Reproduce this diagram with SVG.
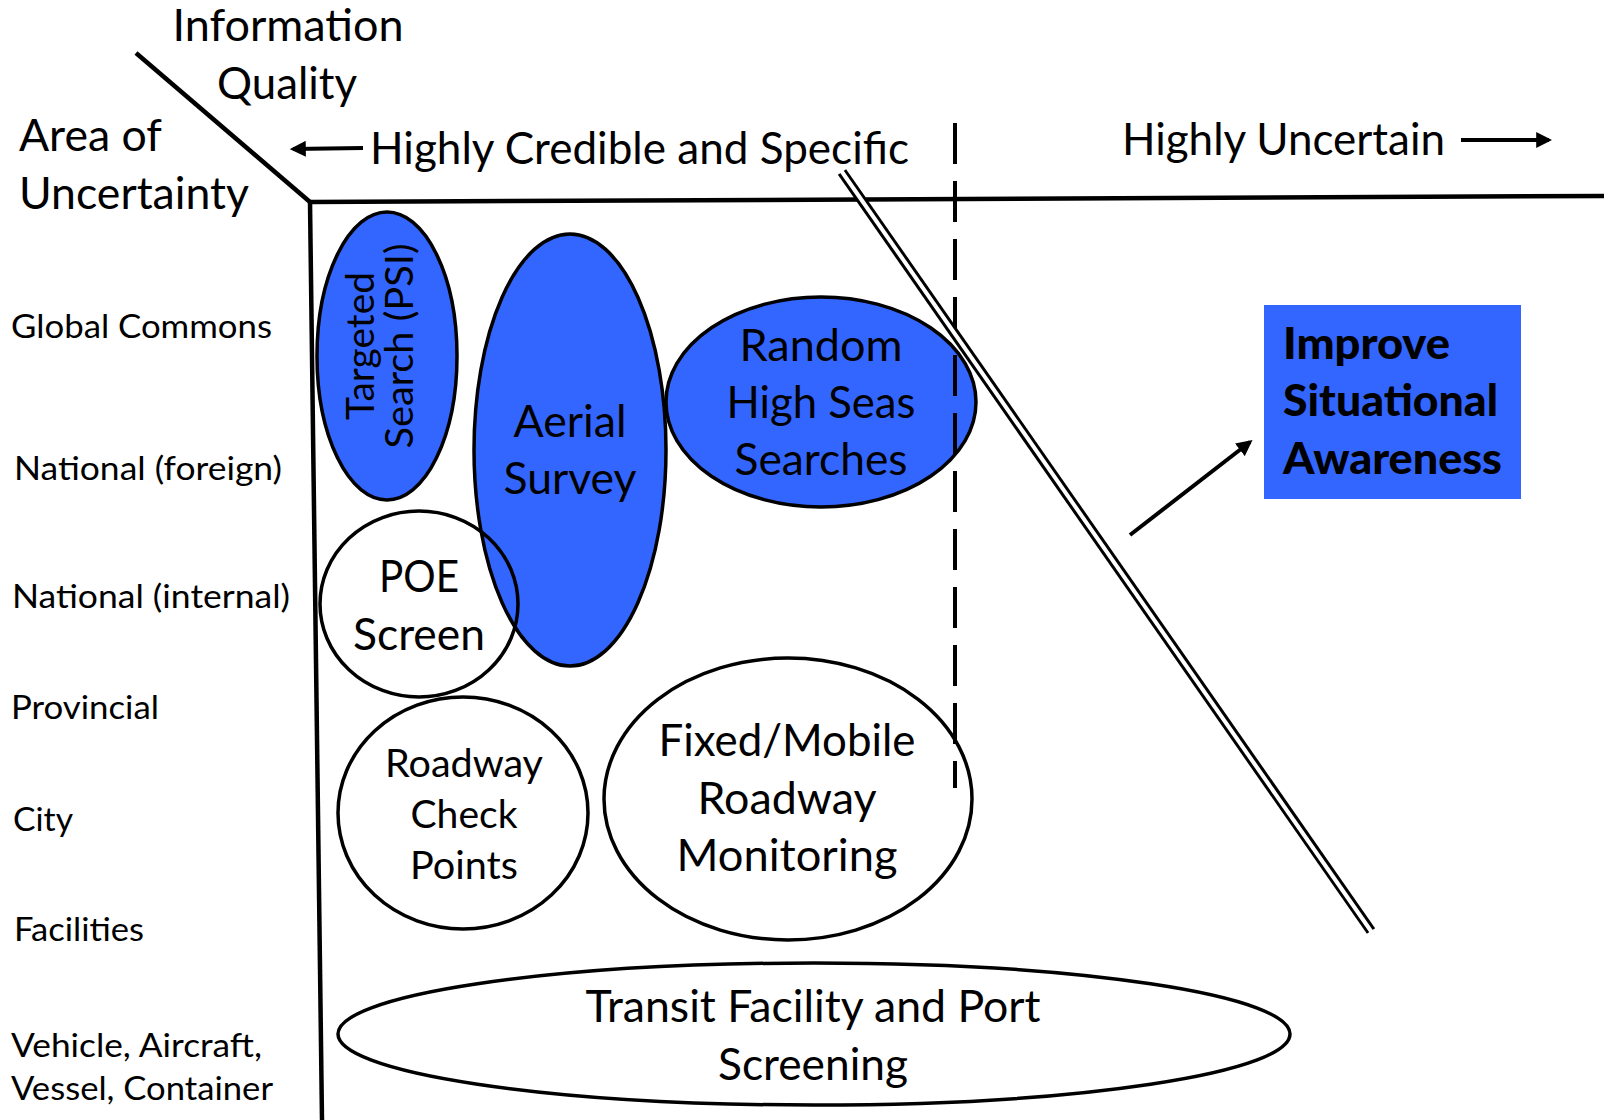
<svg xmlns="http://www.w3.org/2000/svg" width="1604" height="1120" viewBox="0 0 1604 1120">
  <style>
    .t { font-family: Lato, "Liberation Sans", sans-serif; fill: #000; }
    .big { font-size: 44px; }
    .mid { font-size: 39px; }
    .lbl { font-size: 32px; }
    .bold { font-family: Lato, "Liberation Sans", sans-serif; font-weight: 900; font-size: 44px; fill: #000; }
    .c { text-anchor: middle; }
    .blue { fill: #3366FF; stroke: #000; stroke-width: 3.5; }
    .open { fill: none; stroke: #000; stroke-width: 3.5; }
    .axis { stroke: #000; stroke-width: 4.5; fill: none; }
    .arrow { stroke: #000; stroke-width: 4; fill: none; marker-end: url(#head); }
  </style>
  <defs>
    <marker id="head" viewBox="0 0 10 10" refX="8" refY="5" markerWidth="4" markerHeight="4" orient="auto" markerUnits="strokeWidth">
      <path d="M0,0 L10,5 L0,10 Z" fill="#000"/>
    </marker>
  </defs>
  <rect width="1604" height="1120" fill="#fff"/>

  <!-- axes frame -->
  <g id="frame">
    <line class="axis" x1="136" y1="53" x2="310" y2="202"/>
    <line class="axis" x1="310" y1="202" x2="1604" y2="196"/>
    <line class="axis" x1="310" y1="202" x2="322" y2="1120"/>
  </g>

  <!-- axis titles -->
  <g id="axis-titles" lengthAdjust="spacingAndGlyphs">
    <text class="t big c" x="288" y="41" textLength="231" lengthAdjust="spacingAndGlyphs">Information</text>
    <text class="t big c" x="287" y="99" textLength="140" lengthAdjust="spacingAndGlyphs">Quality</text>
    <text class="t big" x="19" y="151" textLength="143" lengthAdjust="spacingAndGlyphs">Area of</text>
    <text class="t big" x="19" y="209" textLength="230" lengthAdjust="spacingAndGlyphs">Uncertainty</text>
    <text class="t big" x="370" y="164" textLength="539" lengthAdjust="spacingAndGlyphs">Highly Credible and Specific</text>
    <text class="t big" x="1122" y="155" textLength="323" lengthAdjust="spacingAndGlyphs">Highly Uncertain</text>
  </g>

  <!-- row labels -->
  <g id="row-labels">
    <text class="t lbl" x="11" y="338" textLength="261" lengthAdjust="spacingAndGlyphs">Global Commons</text>
    <text class="t lbl" x="14" y="480" textLength="268" lengthAdjust="spacingAndGlyphs">National (foreign)</text>
    <text class="t lbl" x="12" y="608" textLength="278" lengthAdjust="spacingAndGlyphs">National (internal)</text>
    <text class="t lbl" x="11" y="719" textLength="148" lengthAdjust="spacingAndGlyphs">Provincial</text>
    <text class="t lbl" x="13" y="831" textLength="60" lengthAdjust="spacingAndGlyphs">City</text>
    <text class="t lbl" x="14" y="941" textLength="130" lengthAdjust="spacingAndGlyphs">Facilities</text>
    <text class="t lbl" x="11" y="1057" textLength="251" lengthAdjust="spacingAndGlyphs">Vehicle, Aircraft,</text>
    <text class="t lbl" x="11" y="1100" textLength="262" lengthAdjust="spacingAndGlyphs">Vessel, Container</text>
  </g>

  <!-- activity nodes -->
  <g id="node-targeted-search">
    <ellipse class="blue" cx="387" cy="356" rx="70" ry="144"/>
    <g transform="translate(374,346) rotate(-90)">
      <text class="t mid c" x="0" y="0" textLength="148" lengthAdjust="spacingAndGlyphs">Targeted</text>
      <text class="t mid c" x="0" y="39" textLength="205" lengthAdjust="spacingAndGlyphs">Search (PSI)</text>
    </g>
  </g>

  <g id="node-aerial-survey">
    <ellipse class="blue" cx="570" cy="450" rx="96" ry="216"/>
    <text class="t big c" x="570" y="437" textLength="113" lengthAdjust="spacingAndGlyphs">Aerial</text>
    <text class="t big c" x="570" y="494" textLength="133" lengthAdjust="spacingAndGlyphs">Survey</text>
  </g>

  <g id="node-random-high-seas">
    <ellipse class="blue" cx="821" cy="402" rx="155" ry="105"/>
    <text class="t big c" x="821" y="361" textLength="163" lengthAdjust="spacingAndGlyphs">Random</text>
    <text class="t big c" x="821" y="418" textLength="189" lengthAdjust="spacingAndGlyphs">High Seas</text>
    <text class="t big c" x="821" y="475" textLength="173" lengthAdjust="spacingAndGlyphs">Searches</text>
  </g>

  <g id="node-poe-screen">
    <ellipse class="open" cx="419" cy="604" rx="99" ry="93"/>
    <text class="t big c" x="419" y="592" textLength="80" lengthAdjust="spacingAndGlyphs">POE</text>
    <text class="t big c" x="419" y="650" textLength="132" lengthAdjust="spacingAndGlyphs">Screen</text>
  </g>

  <g id="node-roadway-check-points">
    <ellipse class="open" cx="463" cy="813" rx="125" ry="116"/>
    <text class="t mid c" x="464" y="777" textLength="158" lengthAdjust="spacingAndGlyphs">Roadway</text>
    <text class="t mid c" x="464" y="828" textLength="107" lengthAdjust="spacingAndGlyphs">Check</text>
    <text class="t mid c" x="464" y="879" textLength="108" lengthAdjust="spacingAndGlyphs">Points</text>
  </g>

  <g id="node-fixed-mobile">
    <ellipse class="open" cx="788" cy="799" rx="184" ry="141"/>
    <text class="t big c" x="787" y="756" textLength="257" lengthAdjust="spacingAndGlyphs">Fixed/Mobile</text>
    <text class="t big c" x="787" y="814" textLength="179" lengthAdjust="spacingAndGlyphs">Roadway</text>
    <text class="t big c" x="787" y="871" textLength="221" lengthAdjust="spacingAndGlyphs">Monitoring</text>
  </g>

  <g id="node-transit-port">
    <ellipse class="open" cx="814" cy="1034" rx="476" ry="71"/>
    <text class="t big c" x="813" y="1022" textLength="455" lengthAdjust="spacingAndGlyphs">Transit Facility and Port</text>
    <text class="t big c" x="813" y="1080" textLength="190" lengthAdjust="spacingAndGlyphs">Screening</text>
  </g>

  <g id="node-improve-awareness">
    <rect x="1264" y="305" width="257" height="194" fill="#3366FF"/>
    <text class="bold" x="1283" y="359" textLength="167" lengthAdjust="spacingAndGlyphs">Improve</text>
    <text class="bold" x="1283" y="416" textLength="215" lengthAdjust="spacingAndGlyphs">Situational</text>
    <text class="bold" x="1283" y="474" textLength="219" lengthAdjust="spacingAndGlyphs">Awareness</text>
  </g>

  <!-- connectors and dividers -->
  <g id="connectors">
    <line stroke="#000" stroke-width="4" stroke-dasharray="41 17" x1="955" y1="123" x2="955" y2="788"/>
    <line stroke="#000" stroke-width="10" x1="842" y1="172" x2="1371" y2="931"/>
    <line stroke="#fff" stroke-width="4" x1="840" y1="169" x2="1373" y2="934"/>
    <line class="arrow" x1="363" y1="148" x2="293" y2="149"/>
    <line class="arrow" x1="1461" y1="140" x2="1549" y2="140"/>
    <line class="arrow" x1="1130" y1="535" x2="1250" y2="442"/>
  </g>
</svg>
